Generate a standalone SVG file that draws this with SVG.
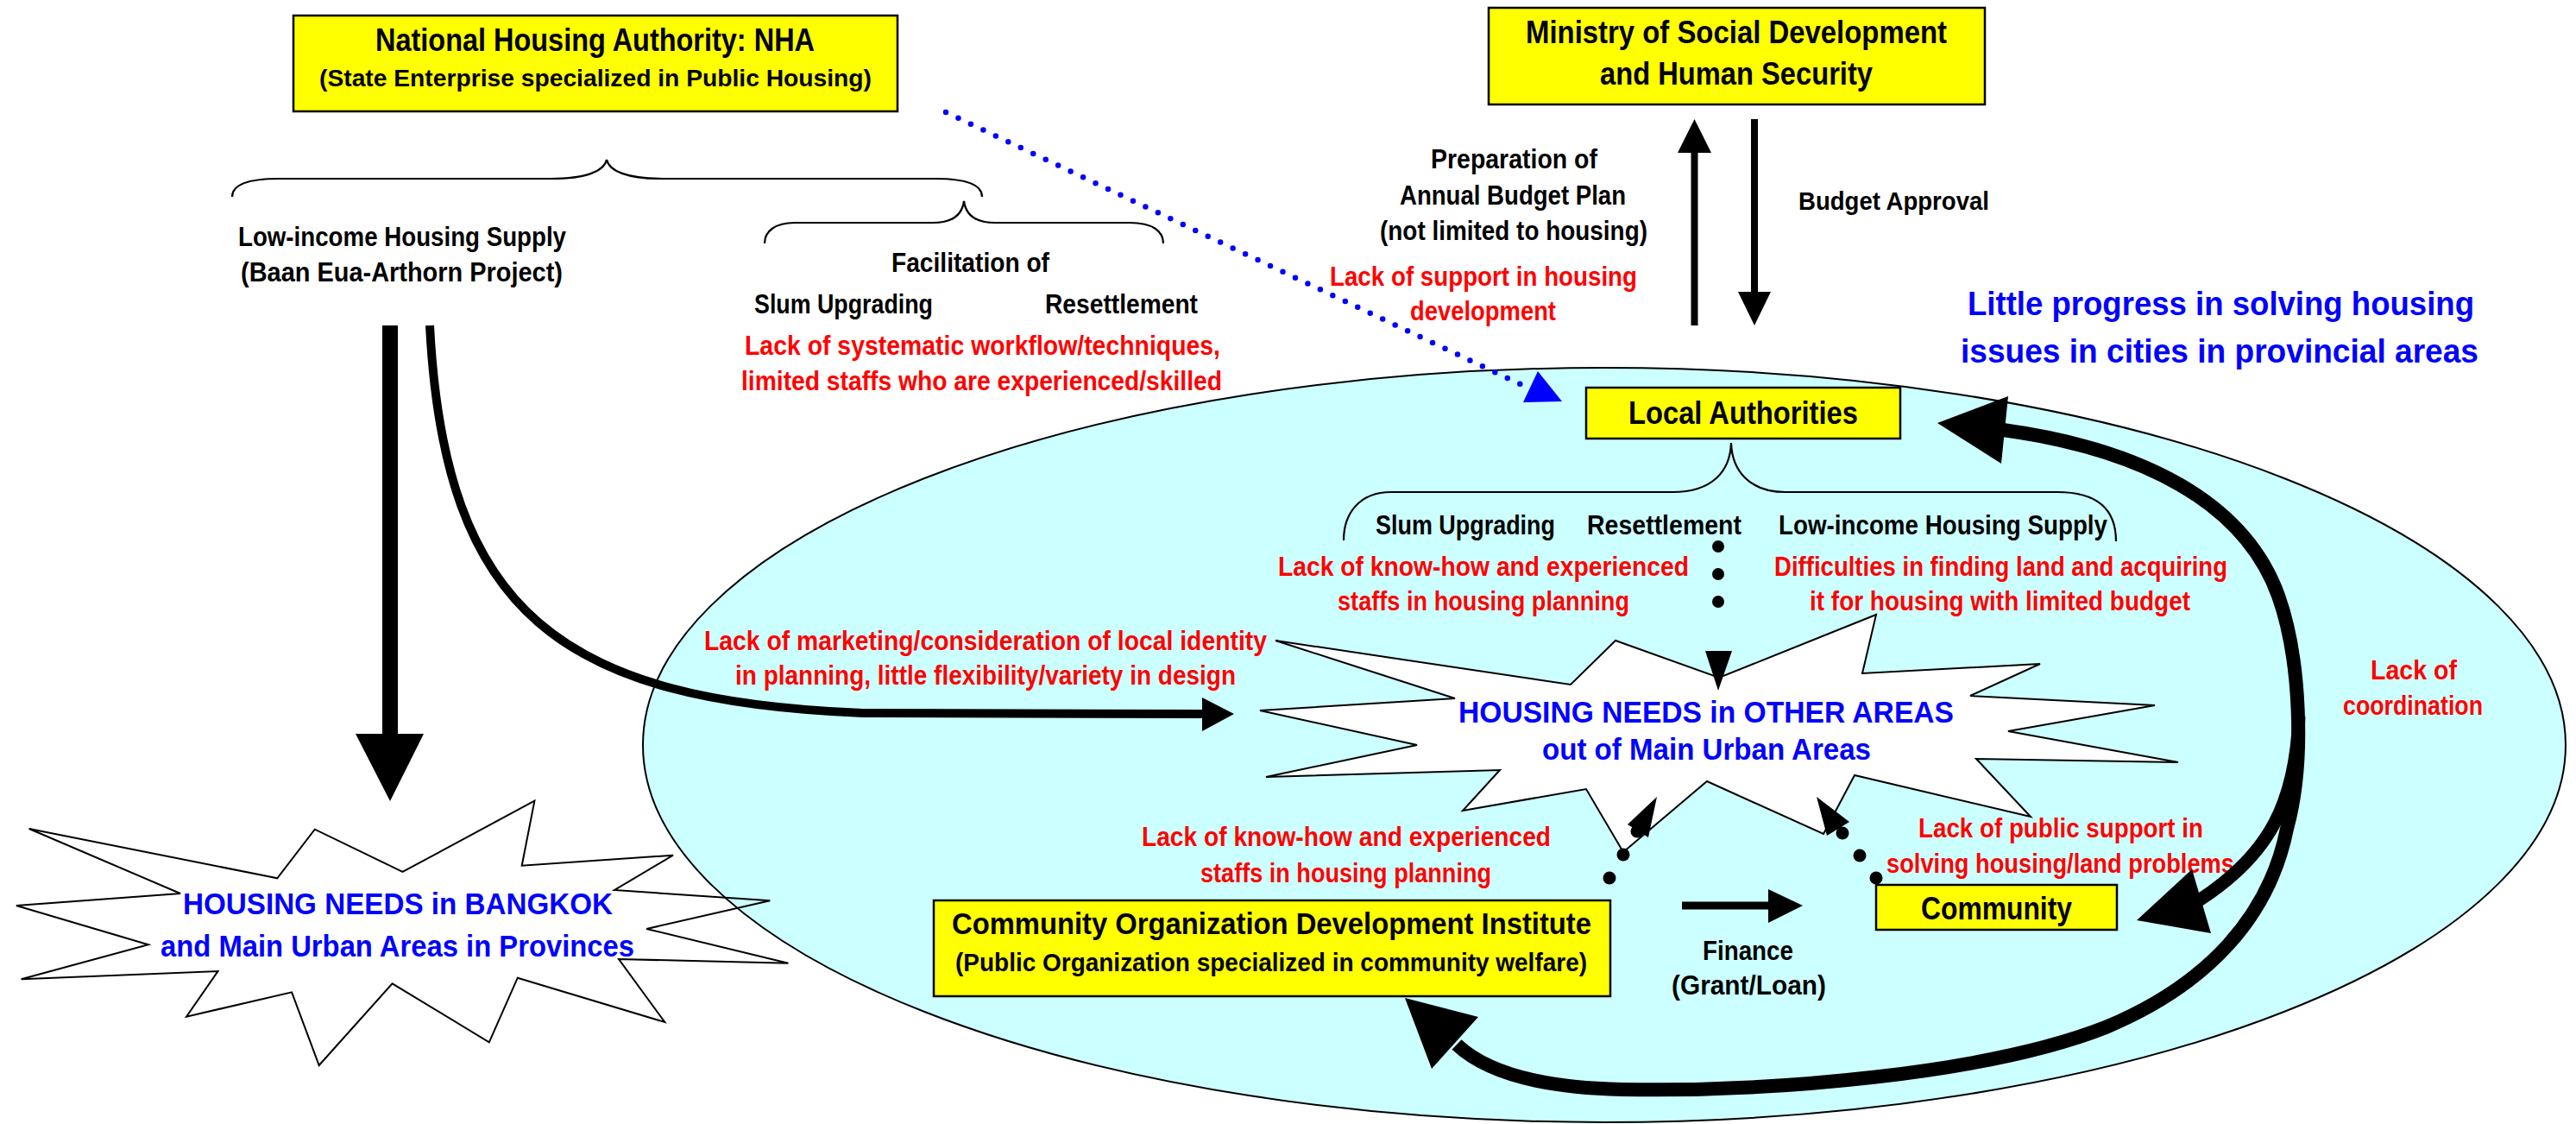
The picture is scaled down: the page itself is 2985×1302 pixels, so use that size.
<svg xmlns="http://www.w3.org/2000/svg" width="2985" height="1302" viewBox="0 0 2985 1302">
<style>
text{font-family:"Liberation Sans Narrow","Liberation Sans",Arial,sans-serif;font-weight:bold;}
.k{fill:#000}
.r{fill:#FF0000}
.b{fill:#0000FF}
.box{fill:#FFFF00;stroke:#000;stroke-width:2.5}
.brace{fill:none;stroke:#000;stroke-width:2.2}
.thick{fill:none;stroke:#000}
.dots{fill:none;stroke:#000;stroke-width:14;stroke-linecap:round}
.star{stroke:#000;stroke-width:2;stroke-linejoin:miter}
</style>
<rect width="2985" height="1302" fill="#fff"/>

<g id="provincial-region">
<ellipse cx="1859" cy="863" rx="1114" ry="437" fill="#CCFFFF" stroke="#000" stroke-width="2"/>
</g>

<g id="bangkok-needs">
<polygon class="star" fill="none" points="33.7,960 321.3,1017.3 364.8,960.7 466.5,1010 619.4,927.7 604.7,1002.7 780,990.7 712,1031 892.3,1043.3 749.2,1076 913.4,1115.7 717,1111 770.3,1184 599.8,1132.7 566.8,1207.3 454.6,1139.3 369.7,1234 338.1,1149.3 216,1177.7 252.5,1125 24.6,1134.3 171.9,1094.3 18.9,1049 209,1035"/>
<text class="b" x="212" y="1059" font-size="35" textLength="498" lengthAdjust="spacingAndGlyphs">HOUSING NEEDS in BANGKOK</text>
<text class="b" x="186" y="1108" font-size="35" textLength="549" lengthAdjust="spacingAndGlyphs">and Main Urban Areas in Provinces</text>
</g>

<g id="other-needs">
<polygon class="star" fill="#fff" points="1478,742 1820,793 1872,742 1992,785 2174,712 2158,780 2364,769 2283,806 2497,817 2327,847 2524,883 2290,879 2353,946 2149,898 2113,966 1978,905 1881,987 1838,914 1695,939 1738,892 1467,900 1642,863 1460,823 1686,809"/>
<text class="b" x="1690" y="837" font-size="35" textLength="574" lengthAdjust="spacingAndGlyphs">HOUSING NEEDS in OTHER AREAS</text>
<text class="b" x="1787" y="880" font-size="35" textLength="381" lengthAdjust="spacingAndGlyphs">out of Main Urban Areas</text>
</g>

<g id="nha">
<rect class="box" x="340" y="18" width="700" height="111"/>
<text class="k" x="435" y="59" font-size="37" textLength="509" lengthAdjust="spacingAndGlyphs">National Housing Authority: NHA</text>
<text class="k" x="370" y="100" font-size="28" textLength="640" lengthAdjust="spacingAndGlyphs">(State Enterprise specialized in Public Housing)</text>
</g>

<g id="nha-roles">
<path class="brace" d="M269,228 C269,215 285,207 323,207 L638,207 C680,207 700,198 703,185 C706,198 726,207 768,207 L1084,207 C1122,207 1138,215 1138,228"/>
<path class="brace" d="M886,282 C886,268 898,258 921,258 L1081,258 C1105,258 1115,248 1117,233 C1119,248 1129,258 1153,258 L1309,258 C1336,258 1348,268 1348,282"/>
<text class="k" x="276" y="285" font-size="31" textLength="380" lengthAdjust="spacingAndGlyphs">Low-income Housing Supply</text>
<text class="k" x="279" y="326" font-size="31" textLength="373" lengthAdjust="spacingAndGlyphs">(Baan Eua-Arthorn Project)</text>
<text class="k" x="1033" y="315" font-size="31" textLength="183" lengthAdjust="spacingAndGlyphs">Facilitation of</text>
<text class="k" x="874" y="363" font-size="31" textLength="207" lengthAdjust="spacingAndGlyphs">Slum Upgrading</text>
<text class="k" x="1211" y="363" font-size="31" textLength="177" lengthAdjust="spacingAndGlyphs">Resettlement</text>
<text class="r" x="863" y="411" font-size="31" textLength="551" lengthAdjust="spacingAndGlyphs">Lack of systematic workflow/techniques,</text>
<text class="r" x="859" y="452" font-size="31" textLength="557" lengthAdjust="spacingAndGlyphs">limited staffs who are experienced/skilled</text>
</g>

<g id="ministry">
<rect class="box" x="1725" y="9" width="575" height="112"/>
<text class="k" x="1768" y="50" font-size="37" textLength="488" lengthAdjust="spacingAndGlyphs">Ministry of Social Development</text>
<text class="k" x="1854" y="98" font-size="37" textLength="316" lengthAdjust="spacingAndGlyphs">and Human Security</text>
</g>

<g id="budget-labels">
<text class="k" x="1658" y="195" font-size="31" textLength="193" lengthAdjust="spacingAndGlyphs">Preparation of</text>
<text class="k" x="1622" y="237" font-size="31" textLength="262" lengthAdjust="spacingAndGlyphs">Annual Budget Plan</text>
<text class="k" x="1599" y="278" font-size="31" textLength="310" lengthAdjust="spacingAndGlyphs">(not limited to housing)</text>
<text class="r" x="1541" y="331" font-size="31" textLength="356" lengthAdjust="spacingAndGlyphs">Lack of support in housing</text>
<text class="r" x="1634" y="371" font-size="31" textLength="169" lengthAdjust="spacingAndGlyphs">development</text>
<text class="k" x="2084" y="243" font-size="30" textLength="221" lengthAdjust="spacingAndGlyphs">Budget Approval</text>
</g>

<g id="issue-note">
<text class="b" x="2280" y="365" font-size="39" textLength="587" lengthAdjust="spacingAndGlyphs">Little progress in solving housing</text>
<text class="b" x="2272" y="420" font-size="39" textLength="600" lengthAdjust="spacingAndGlyphs">issues in cities in provincial areas</text>
</g>

<g id="local-authorities">
<rect class="box" x="1838" y="449" width="364" height="59"/>
<text class="k" x="1887" y="491" font-size="36" textLength="266" lengthAdjust="spacingAndGlyphs">Local Authorities</text>
</g>

<g id="la-roles">
<path class="brace" d="M1557,626 C1557,595 1575,570 1612,570 L1938,570 C1985,570 2005,545 2006,513 C2007,545 2027,570 2069,570 L2384,570 C2430,570 2452,590 2452,627"/>
<text class="k" x="1594" y="619" font-size="31" textLength="208" lengthAdjust="spacingAndGlyphs">Slum Upgrading</text>
<text class="k" x="1839" y="619" font-size="31" textLength="179" lengthAdjust="spacingAndGlyphs">Resettlement</text>
<text class="k" x="2061" y="619" font-size="31" textLength="381" lengthAdjust="spacingAndGlyphs">Low-income Housing Supply</text>
<text class="r" x="1481" y="667" font-size="31" textLength="476" lengthAdjust="spacingAndGlyphs">Lack of know-how and experienced</text>
<text class="r" x="1550" y="707" font-size="31" textLength="338" lengthAdjust="spacingAndGlyphs">staffs in housing planning</text>
<text class="r" x="2056" y="667" font-size="31" textLength="525" lengthAdjust="spacingAndGlyphs">Difficulties in finding land and acquiring</text>
<text class="r" x="2097" y="707" font-size="31" textLength="441" lengthAdjust="spacingAndGlyphs">it for housing with limited budget</text>
</g>

<g id="nha-issue">
<text class="r" x="816" y="753" font-size="31" textLength="652" lengthAdjust="spacingAndGlyphs">Lack of marketing/consideration of local identity</text>
<text class="r" x="852" y="793" font-size="31" textLength="580" lengthAdjust="spacingAndGlyphs">in planning, little flexibility/variety in design</text>
</g>

<g id="coordination-note">
<text class="r" x="2747" y="787" font-size="31" textLength="100" lengthAdjust="spacingAndGlyphs">Lack of</text>
<text class="r" x="2715" y="828" font-size="31" textLength="162" lengthAdjust="spacingAndGlyphs">coordination</text>
</g>

<g id="codi-issue">
<text class="r" x="1323" y="980" font-size="31" textLength="474" lengthAdjust="spacingAndGlyphs">Lack of know-how and experienced</text>
<text class="r" x="1391" y="1022" font-size="31" textLength="337" lengthAdjust="spacingAndGlyphs">staffs in housing planning</text>
</g>

<g id="community-issue">
<text class="r" x="2223" y="970" font-size="31" textLength="330" lengthAdjust="spacingAndGlyphs">Lack of public support in</text>
<text class="r" x="2186" y="1011" font-size="31" textLength="403" lengthAdjust="spacingAndGlyphs">solving housing/land problems</text>
</g>

<g id="codi">
<rect class="box" x="1082" y="1043" width="784" height="111"/>
<text class="k" x="1103" y="1082" font-size="35" textLength="741" lengthAdjust="spacingAndGlyphs">Community Organization Development Institute</text>
<text class="k" x="1107" y="1125" font-size="30" textLength="732" lengthAdjust="spacingAndGlyphs">(Public Organization specialized in community welfare)</text>
</g>

<g id="community">
<rect class="box" x="2174" y="1025" width="279" height="52"/>
<text class="k" x="2226" y="1065" font-size="36" textLength="175" lengthAdjust="spacingAndGlyphs">Community</text>
</g>

<g id="finance-label">
<text class="k" x="1973" y="1112" font-size="31" textLength="105" lengthAdjust="spacingAndGlyphs">Finance</text>
<text class="k" x="1937" y="1152" font-size="31" textLength="179" lengthAdjust="spacingAndGlyphs">(Grant/Loan)</text>
</g>

<g id="connectors">
<line x1="452" y1="377" x2="452" y2="852" stroke="#000" stroke-width="18"/>
<polygon points="412,850 491,850 452,928" fill="#000"/>
<path class="thick" stroke-width="10" d="M498,377 C515,710 650,812 1000,826 L1396,827"/>
<polygon points="1393,808 1430,827 1393,847" fill="#000"/>
<line x1="1096" y1="130" x2="1768" y2="448" stroke="#0000FF" stroke-width="6.5" stroke-linecap="round" stroke-dasharray="0 16"/>
<polygon points="1782,430 1765,466 1810,465" fill="#0000FF"/>
<line x1="1963.5" y1="377" x2="1963.5" y2="175" stroke="#000" stroke-width="8"/>
<polygon points="1944,177 1983,177 1963.5,138" fill="#000"/>
<line x1="2033" y1="138" x2="2033" y2="340" stroke="#000" stroke-width="8"/>
<polygon points="2014,338 2052,338 2033,377" fill="#000"/>
<line class="dots" x1="1991" y1="633" x2="1991" y2="729" stroke-dasharray="0 32"/>
<polygon points="1976,754 2007,754 1991,800" fill="#000"/>
<circle cx="1865" cy="1017" r="7.5" fill="#000"/>
<circle cx="1881" cy="990" r="7.5" fill="#000"/>
<circle cx="1897" cy="963" r="7.5" fill="#000"/>
<polygon points="1886,955 1920,923 1910,970" fill="#000"/>
<circle cx="2174" cy="1017" r="7.5" fill="#000"/>
<circle cx="2155" cy="991" r="7.5" fill="#000"/>
<circle cx="2135" cy="965" r="7.5" fill="#000"/>
<polygon points="2117,968 2105,923 2143,952" fill="#000"/>
<line x1="1949" y1="1049" x2="2051" y2="1049" stroke="#000" stroke-width="9"/>
<polygon points="2049,1030 2049,1069 2089,1049" fill="#000"/>
<path class="thick" stroke-width="16" d="M2321,498 C2480,520 2600,580 2640,690 C2665,760 2672,880 2650,960 C2630,1060 2560,1140 2440,1190 C2300,1245 2050,1265 1880,1262 C1780,1260 1720,1240 1688,1210"/>
<polygon points="2245,490 2327,459 2319,537" fill="#000"/>
<polygon points="1628,1156 1713,1178 1659,1238" fill="#000"/>
<path class="thick" stroke-width="15" d="M2664,830 C2660,930 2630,990 2548,1043"/>
<polygon points="2476,1066 2540,1007 2562,1081" fill="#000"/>
</g>
</svg>
